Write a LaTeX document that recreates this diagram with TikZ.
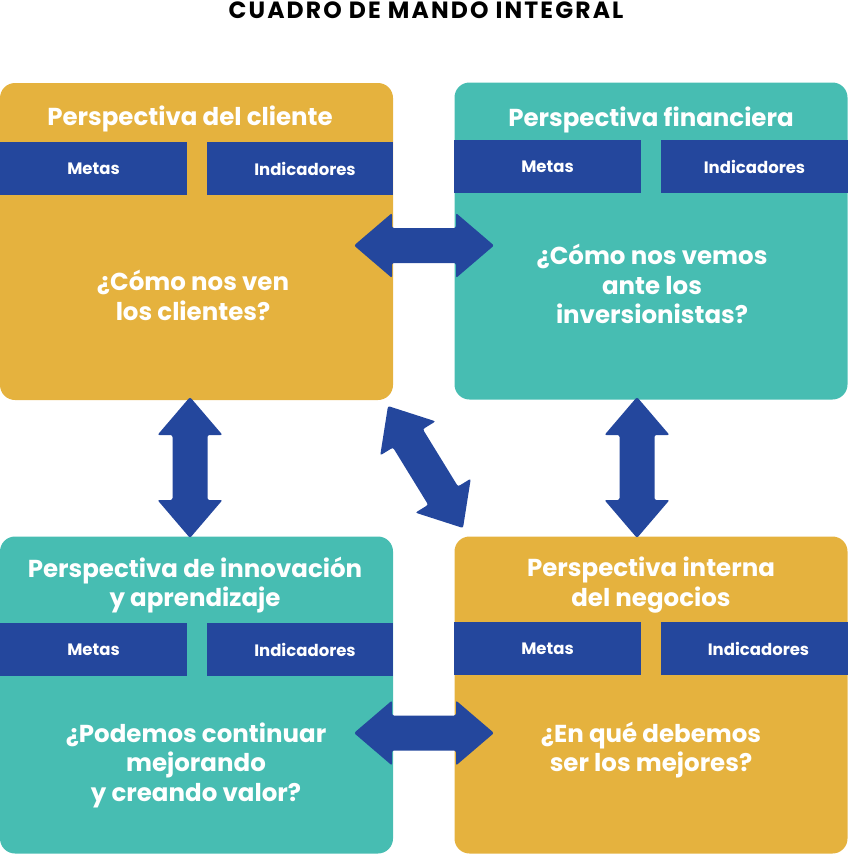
\documentclass[tikz,border=0pt]{standalone}
\usepackage{fontspec}
\setmainfont{Poppins}
\usetikzlibrary{calc}
\definecolor{gold}{RGB}{229,178,62}
\definecolor{tealc}{RGB}{71,189,178}
\definecolor{navy}{RGB}{36,71,157}
\newcommand\dblarr[2]{\fill[navy, rounded corners=2pt] let \p1=(#1), \p2=(#2), \n1={atan2(\y2-\y1,\x2-\x1)}, \n2={veclen(\x2-\x1,\y2-\y1)} in [shift={(\p1)}, rotate=\n1] (0,0) -- (38,32.5) -- (38,17.5) -- ({\n2-38},17.5) -- ({\n2-38},32.5) -- (\n2,0) -- ({\n2-38},-32.5) -- ({\n2-38},-17.5) -- (38,-17.5) -- (38,-32.5) -- cycle;}
\begin{document}
\begin{tikzpicture}[x=1pt,y=-1pt,
  box/.style={rounded corners=15pt, minimum width=393pt, minimum height=317pt, inner sep=0pt},
  bar/.style={fill=navy, minimum height=53pt, inner sep=0pt, text=white, font=\fontsize{16.5}{18}\selectfont\bfseries},
  txt/.style={text=white, align=center, inner sep=0pt, font=\fontsize{24.5}{29.5}\selectfont\bfseries}]
\useasboundingbox (0,0) rectangle (848,854);
\node[font=\fontsize{23.5}{24}\selectfont\bfseries\addfontfeature{LetterSpace=9}] (title) at (426,10) {CUADRO DE MANDO INTEGRAL};
% boxes
\node[box, fill=gold] (tl) at (196.5,241.5) {};
\node[box, fill=tealc] (tr) at (651,241) {};
\node[box, fill=tealc] (bl) at (196.5,695) {};
\node[box, fill=gold] (br) at (651,695) {};
% bars
\node[bar, minimum width=187pt] (tlm) at (93.5,168.5) {Metas};
\node[bar, minimum width=186pt] (tli) at (300,168.5) {\hspace*{10pt}Indicadores};
\node[bar, minimum width=187pt] (trm) at (547.5,166.5) {Metas};
\node[bar, minimum width=187pt] (tri) at (754.5,166.5) {Indicadores};
\node[bar, minimum width=187pt] (blm) at (93.5,649.5) {Metas};
\node[bar, minimum width=186pt] (bli) at (300,649.5) {\hspace*{10pt}Indicadores};
\node[bar, minimum width=187pt] (brm) at (547.5,648.5) {Metas};
\node[bar, minimum width=187pt] (bri) at (754.5,648.5) {\hspace*{8pt}Indicadores};
% headers
\node[txt] (tlh) at (190,119) {Perspectiva del cliente};
\node[txt] (trh) at (651,120) {Perspectiva financiera};
\node[txt] (blh) at (195,585) {Perspectiva de innovación\\y aprendizaje};
\node[txt] (brh) at (651,585) {Perspectiva interna\\del negocios};
% questions
\node[txt] (tlq) at (193,295.5) {¿Cómo nos ven\\ los clientes?};
\node[txt] (trq) at (652,284) {¿Cómo nos vemos\\ante los\\inversionistas?};
\node[txt] (blq) at (196,765) {¿Podemos continuar\\mejorando\\ y creando valor?};
\node[txt] (brq) at (651,750) {¿En qué debemos\\ser los mejores?};
% arrows
\coordinate (h1a) at (354,245.5); \coordinate (h1b) at (494,245.5);
\coordinate (h2a) at (354,733); \coordinate (h2b) at (494,733);
\coordinate (v1a) at (190,397); \coordinate (v1b) at (190,538);
\coordinate (v2a) at (637,397); \coordinate (v2b) at (637,538);
\coordinate (d1a) at (388,406); \coordinate (d1b) at (463,528);
\dblarr{h1a}{h1b}
\dblarr{h2a}{h2b}
\dblarr{v1a}{v1b}
\dblarr{v2a}{v2b}
\dblarr{d1a}{d1b}
\end{tikzpicture}
\end{document}
